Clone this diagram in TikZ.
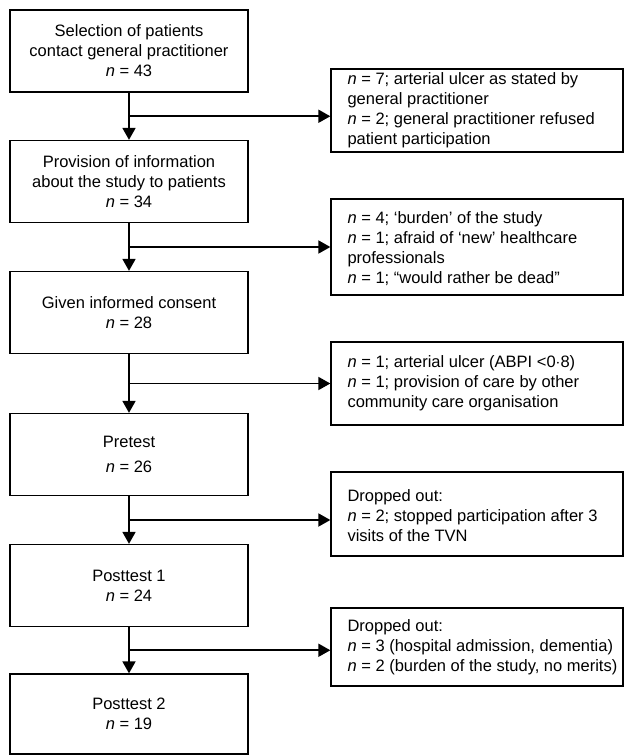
\documentclass[tikz,border=0pt]{standalone}
\usepackage{fontspec}
\setmainfont{Liberation Sans}
\usetikzlibrary{positioning, calc, arrows.meta}

\begin{document}
\begin{tikzpicture}[x=1pt, y=-1pt, >={Triangle[length=12pt, width=13pt]},
	font=\fontsize{16.5}{20}\selectfont,
	stagebox/.style={draw, line width=1.3pt, minimum width=238pt, minimum height=82pt, align=center, inner sep=0pt},
	dropbox/.style={draw, line width=1.3pt, minimum width=292pt, inner sep=0pt},
	droptext/.style={anchor=west, align=left, inner sep=0pt},
	flow/.style={line width=1.8pt, ->}]
	
	% --- 1. FRAME (same size as the reference) ---
	\useasboundingbox (0,0) rectangle (624,755);
	
	% --- 2. MAIN CHAIN (left column) ---
	\node[stagebox] (sel) at (129,51) {Selection of patients\\contact general practitioner\\\textit{n} = 43};
	\node[stagebox] (info) at (129,181.5) {Provision of information\\about the study to patients\\\textit{n} = 34};
	\node[stagebox] (consent) at (129,312.5) {Given informed consent\\\textit{n} = 28};
	\node[stagebox] (pre) at (129,454.5) {Pretest\\[5pt]\textit{n} = 26};
	\node[stagebox] (post1) at (129,585.5) {Posttest 1\\\textit{n} = 24};
	\node[stagebox, minimum height=80pt] (post2) at (129,714) {Posttest 2\\\textit{n} = 19};
	
	% --- 3. EXCLUSION BOXES (right column) ---
	\node[dropbox, minimum height=83pt] (ex1) at (477,110.5) {};
	\node[dropbox, minimum height=96pt] (ex2) at (477,247) {};
	\node[dropbox, minimum height=83pt] (ex3) at (477,383.5) {};
	\node[dropbox, minimum height=84pt] (ex4) at (477,514) {};
	\node[dropbox, minimum height=78pt] (ex5) at (477,647) {};
	
	% Texts, left aligned inside the boxes
	\node[droptext] (ex1t) at ([xshift=17pt]ex1.west) {\textit{n} = 7; arterial ulcer as stated by\\general practitioner\\\textit{n} = 2; general practitioner refused\\patient participation};
	\node[droptext] (ex2t) at ([xshift=17pt, yshift=-2pt]ex2.west) {\textit{n} = 4; `burden' of the study\\\textit{n} = 1; afraid of `new' healthcare\\professionals\\\textit{n} = 1; ``would rather be dead''};
	\node[droptext] (ex3t) at ([xshift=17pt]ex3.west) {\textit{n} = 1; arterial ulcer (ABPI <0$\cdot$8)\\\textit{n} = 1; provision of care by other\\community care organisation};
	\node[droptext] (ex4t) at ([xshift=17pt, yshift=-2pt]ex4.west) {Dropped out:\\\textit{n} = 2; stopped participation after 3\\visits of the TVN};
	\node[droptext] (ex5t) at ([xshift=17pt]ex5.west) {Dropped out:\\\textit{n} = 3 (hospital admission, dementia)\\\textit{n} = 2 (burden of the study, no merits)};
	
	% --- 4. BRANCH POINTS (halfway between the stages) ---
	\coordinate (s1) at ($(sel.south)!0.5!(info.north)$);
	\coordinate (s2) at ($(info.south)!0.5!(consent.north)$);
	\coordinate (s3) at ($(consent.south)!0.5!(pre.north)$);
	\coordinate (s4) at ($(pre.south)!0.5!(post1.north)$);
	\coordinate (s5) at ($(post1.south)!0.5!(post2.north)$);
	
	% --- 5. ARROWS ---
	\draw[flow] (sel) -- (info);
	\draw[flow] (info) -- (consent);
	\draw[flow] (consent) -- (pre);
	\draw[flow] (pre) -- (post1);
	\draw[flow] (post1) -- (post2);
	
	\draw[flow] (s1) -- (s1 -| ex1.west);
	\draw[flow] (s2) -- (s2 -| ex2.west);
	\draw[flow] (s3) -- (s3 -| ex3.west);
	\draw[flow] (s4) -- (s4 -| ex4.west);
	\draw[flow] (s5) -- (s5 -| ex5.west);
	
\end{tikzpicture}
\end{document}
